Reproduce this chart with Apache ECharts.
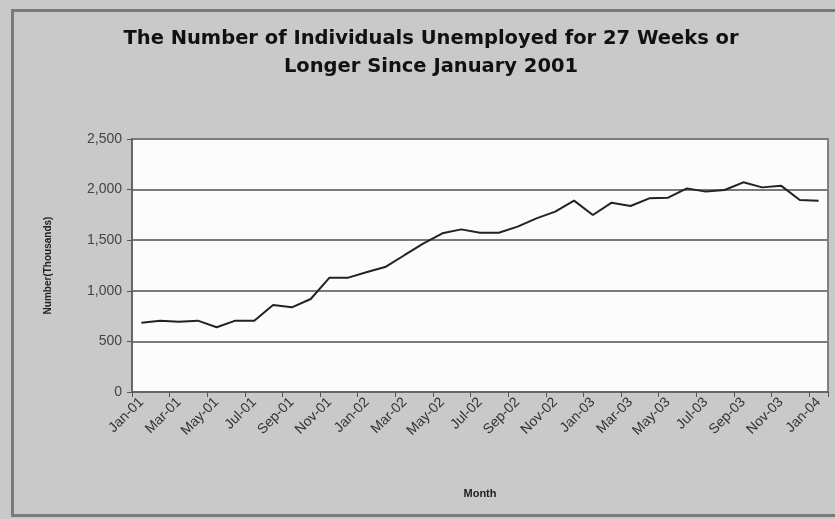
<!DOCTYPE html>
<html>
<head>
<meta charset="utf-8">
<script src="https://cdn.jsdelivr.net/npm/echarts@6/dist/echarts.min.js"></script>
<style>
html,body{margin:0;padding:0;background:#c9c9c9;}
#chart{width:835px;height:519px;}
</style>
</head>
<body>
<div id="chart"></div>
<script>
const months = ["Jan-01","Feb-01","Mar-01","Apr-01","May-01","Jun-01","Jul-01","Aug-01","Sep-01","Oct-01","Nov-01","Dec-01",
"Jan-02","Feb-02","Mar-02","Apr-02","May-02","Jun-02","Jul-02","Aug-02","Sep-02","Oct-02","Nov-02","Dec-02",
"Jan-03","Feb-03","Mar-03","Apr-03","May-03","Jun-03","Jul-03","Aug-03","Sep-03","Oct-03","Nov-03","Dec-03",
"Jan-04"];
const unemployed27 = [685,705,695,705,640,705,705,860,837,919,1130,1130,
1185,1238,1354,1469,1568,1607,1574,1574,1634,1716,1782,1891,
1749,1871,1838,1914,1920,2012,1980,1996,2072,2022,2039,1897,
1890];
const titleText = "The Number of Individuals Unemployed for 27 Weeks or\nLonger Since January 2001";
const yName = "Number(Thousands)";
const xName = "Month";

const chart = echarts.init(document.getElementById('chart'));
chart.setOption({
  backgroundColor: '#c9c9c9',
  animation: false,
  graphic: [{
    type: 'rect', left: 10, top: 8,
    shape: {width: 840, height: 505},
    style: {fill: 'none', stroke: '#7a7a7a', lineWidth: 3}
  }],
  title: {
    text: titleText,
    left: 426, top: 20,
    textAlign: 'center',
    textStyle: {fontFamily: 'DejaVu Sans', fontWeight: 'bold', fontSize: 19.5, color: '#111', lineHeight: 28}
  },
  grid: {left: 132, right: 7, top: 139, bottom: 127, show: true, backgroundColor: '#fcfcfc', borderColor: '#808080', borderWidth: 2},
  xAxis: {
    type: 'category', data: months, boundaryGap: true,
    name: xName, nameLocation: 'middle', nameGap: 96,
    nameTextStyle: {fontFamily: 'Liberation Sans', fontWeight: 'bold', fontSize: 11, color: '#222'},
    axisLine: {lineStyle: {color: '#666', width: 2}},
    axisTick: {show: true, interval: 1, length: 5, lineStyle: {color: '#555'}},
    axisLabel: {interval: 1, rotate: 45, fontFamily: 'Liberation Sans', fontSize: 14, color: '#333', margin: 8}
  },
  yAxis: {
    type: 'value', min: 0, max: 2500, interval: 500,
    name: yName, nameLocation: 'middle', nameGap: 79,
    nameTextStyle: {fontFamily: 'Liberation Sans', fontWeight: 'bold', fontSize: 10, color: '#222'},
    axisLine: {show: true, lineStyle: {color: '#666', width: 2}},
    axisTick: {show: true, length: 5, lineStyle: {color: '#555'}},
    axisLabel: {fontFamily: 'Liberation Sans', fontSize: 14, color: '#444', margin: 10,
      formatter: v => v.toLocaleString('en-US')},
    splitLine: {lineStyle: {color: '#7a7a7a', width: 2}}
  },
  series: [{
    type: 'line', data: unemployed27, symbol: 'none',
    lineStyle: {color: '#222', width: 2}
  }]
});
</script>
</body>
</html>
